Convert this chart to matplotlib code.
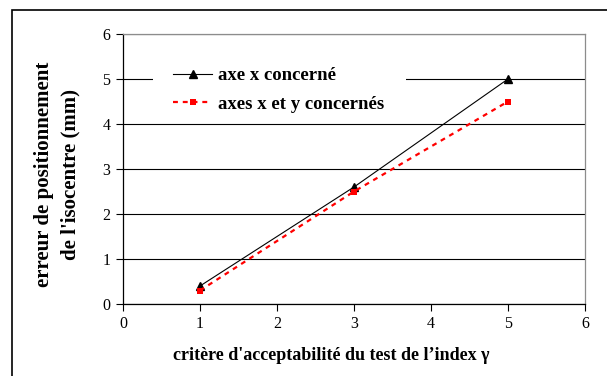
import matplotlib
matplotlib.use("Agg")
import matplotlib.pyplot as plt
from matplotlib.patches import Rectangle
from matplotlib.transforms import Bbox, TransformedBbox

# critère gamma testé et erreur de positionnement correspondante (mm)
gamma = [1, 3, 5]
err_x = [0.4, 2.6, 5.0]
err_xy = [0.3, 2.5, 4.5]
labels = ["axe x concerné", "axes x et y concernés"]
ylab = "erreur de positionnement\nde l'isocentre (mm)"
xlab = "critère d'acceptabilité du test de l’index γ"

W, H = 607, 376
plt.rcParams["font.family"] = ["Liberation Serif", "DejaVu Serif"]

fig = plt.figure(figsize=(W / 100, H / 100), dpi=100)
ax = fig.add_axes([123 / W, 1 - 304 / H, 462 / W, 270 / H])

ax.plot(gamma, err_x, color="black", lw=0.8, marker="^", ms=5.5,
        label=labels[0], zorder=3)
ax.plot(gamma, err_xy, color="red", lw=1.6, ls=(0, (2.2, 2.2)), marker="s",
        ms=5, markeredgewidth=0, label=labels[1], zorder=3)

ax.set_xlim(0, 6)
ax.set_ylim(0, 6)
ax.set_xticks(range(7))
ax.set_yticks(range(7))
ax.tick_params(labelsize=11.5, length=5, width=0.8, direction="out", pad=4)
ax.grid(axis="y", color="black", lw=0.8)
ax.set_axisbelow(True)
for s in ("left", "bottom"):
    ax.spines[s].set_color("black")
    ax.spines[s].set_linewidth(0.9)
for s in ("top", "right"):
    ax.spines[s].set_color("#8c8c8c")
    ax.spines[s].set_linewidth(0.9)

# fond blanc derrière la légende (masque le quadrillage)
ax.add_patch(Rectangle((153 / W, 1 - 120 / H), 253 / W, 64 / H,
                       transform=fig.transFigure, facecolor="white",
                       edgecolor="none", zorder=1.5))
leg = ax.legend(loc="upper left", bbox_to_anchor=(173 / W, 1 - 67 / H),
                bbox_transform=fig.transFigure, frameon=False,
                prop={"weight": "bold", "size": 13.5}, handlelength=2.08,
                handletextpad=0.32, labelspacing=0.62, borderpad=0,
                borderaxespad=0)

fig.text(331 / W, 1 - 355 / H, xlab, ha="center", va="center",
         fontsize=13, fontweight="bold")
yl = fig.text(57 / W, 1 - 174 / H, ylab, ha="center", va="center",
              rotation=90, fontsize=15, fontweight="bold", linespacing=1.45,
              multialignment="center")
yl.set_clip_box(TransformedBbox(Bbox([[0, 0], [1, 1 - 61 / H]]),
                                fig.transFigure))
yl.set_clip_on(True)

# cadre de la zone graphique
fig.add_artist(Rectangle((12 / W, -0.1), 1.5, 1.1 - 10 / H,
                         transform=fig.transFigure, fill=False,
                         edgecolor="black", lw=1.2))

fig.savefig("out.png", dpi=100)
